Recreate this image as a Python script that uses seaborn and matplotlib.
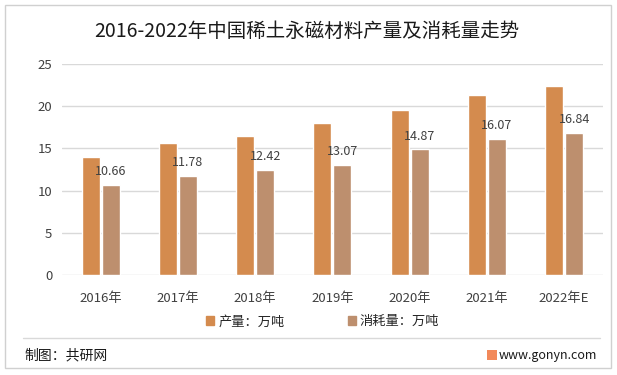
import pandas as pd
import matplotlib.pyplot as plt
import seaborn as sns
from matplotlib.patches import Rectangle
from matplotlib.lines import Line2D

# 数据
years = ['2016年', '2017年', '2018年', '2019年', '2020年', '2021年', '2022年E']
production = [14.0, 15.6, 16.5, 18.0, 19.6, 21.3, 22.4]
consumption = [10.66, 11.78, 12.42, 13.07, 14.87, 16.07, 16.84]
series_names = ['产量：万吨', '消耗量：万吨']
colors = ['#D48B4E', '#BD8F6E']

df = pd.DataFrame({
    'year': years * 2,
    'value': production + consumption,
    'series': [series_names[0]] * len(years) + [series_names[1]] * len(years),
})

sns.set_theme(style='white')
plt.rcParams['font.family'] = ['Noto Sans CJK SC', 'DejaVu Sans']

fig = plt.figure(figsize=(6.17, 3.75), dpi=100)
ax = fig.add_axes([0.1005, 0.2667, 0.8765, 0.5626])

sns.barplot(data=df, x='year', y='value', hue='series', palette=colors,
            width=0.52, gap=0.1, saturation=1, ax=ax, legend=False)

ax.set_ylim(0, 25)
ax.set_yticks([0, 5, 10, 15, 20, 25])
ax.yaxis.grid(True, color='#D9D9D9', linewidth=1)
ax.set_axisbelow(True)
for s in ax.spines.values():
    s.set_visible(False)
ax.set_xlabel('')
ax.set_ylabel('')
ax.tick_params(axis='x', length=0, pad=12, labelsize=9.5, labelcolor='#404040')
ax.tick_params(axis='y', length=0, pad=7, labelsize=9.5, labelcolor='#404040')

# 消耗量数据标签
ax.bar_label(ax.containers[1], labels=[f'{v:.2f}' for v in consumption],
             padding=5, fontsize=9, color='#404040')

# 图例
handles = [Rectangle((0, 0), 1, 1, color=c) for c in colors]
fig.legend(handles, series_names, loc='center', bbox_to_anchor=(0.523, 0.142),
           ncol=2, frameon=False, fontsize=9.5, handlelength=0.6, handleheight=0.6,
           handletextpad=0.3, columnspacing=4.8, labelcolor='#262626')

# 标题
fig.text(0.497, 0.915, '2016-2022年中国稀土永磁材料产量及消耗量走势',
         ha='center', va='center', fontsize=14, color='#1a1a1a')

# 边框与分隔线
fig.patches.append(Rectangle((0.008, 0.019), 0.982, 0.968, transform=fig.transFigure,
                             fill=False, edgecolor='#D0D0D0', linewidth=1))
fig.lines.append(Line2D([0.037, 0.972], [0.099, 0.099], transform=fig.transFigure,
                        color='#D9D9D9', linewidth=1))

# 底部文字
fig.text(0.04, 0.051, '制图：共研网', ha='left', va='center', fontsize=10, color='#1a1a1a')
fig.patches.append(Rectangle((0.789, 0.04), 0.016, 0.027, transform=fig.transFigure,
                             color='#F2895A', linewidth=0))
fig.text(0.809, 0.053, 'www.gonyn.com', ha='left', va='center', fontsize=9, color='#1a1a1a')

plt.savefig('out.png', dpi=100)
plt.close()
